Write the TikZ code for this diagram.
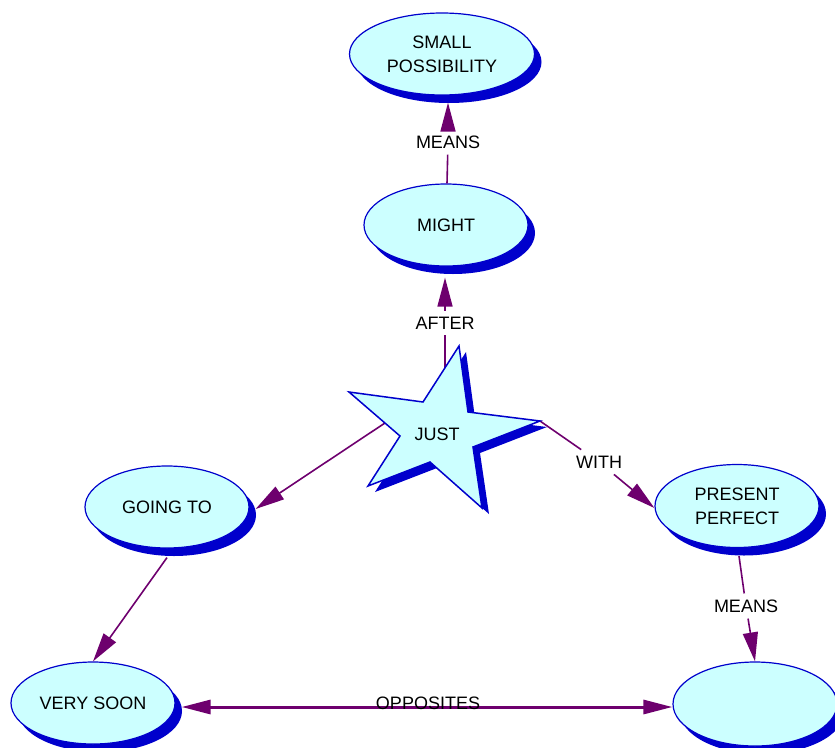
\documentclass[tikz,border=0pt]{standalone}
\usepackage{fontspec}
\setmainfont{Liberation Sans}
\usetikzlibrary{shapes.geometric,shadows,arrows.meta}
\definecolor{conceptfill}{RGB}{204,255,255}
\definecolor{conceptline}{RGB}{0,0,204}
\definecolor{shadowblue}{RGB}{0,0,204}
\definecolor{linkcol}{RGB}{110,0,110}
\tikzset{
  concept/.style={ellipse, draw=conceptline, line width=1.2pt, fill=conceptfill,
    minimum width=164pt, minimum height=82pt, align=center, inner sep=0pt,
    font=\fontsize{18}{24}\selectfont,
    drop shadow={shadow xshift=7pt, shadow yshift=-8pt, fill=shadowblue, opacity=1}},
  linklabel/.style={font=\fontsize{18}{24}\selectfont, inner sep=6pt},
  link/.style={draw=linkcol, line width=1.6pt},
  linkarrow/.style={arrows={-Triangle[length=29pt,width=15pt]}},
  twoway/.style={arrows={Triangle[length=29pt,width=14pt]-Triangle[length=29pt,width=14pt]}},
  starshadow/.style={fill=shadowblue},
  starbody/.style={fill=conceptfill, draw=conceptline, line width=1.5pt}
}
\begin{document}
\begin{tikzpicture}[x=1pt,y=-1pt]
  \useasboundingbox (0,0) rectangle (835,747);
  % concepts
  \node[concept, minimum width=185pt] (smallposs) at (442,54) {SMALL\\POSSIBILITY};
  \node[concept] (might) at (446,225) {MIGHT};
  \node[concept] (goingto) at (167,507) {GOING TO};
  \node[concept, minimum height=83pt] (pp) at (737,506) {PRESENT\\PERFECT};
  \node[concept] (verysoon) at (93,703) {VERY SOON};
  \node[concept, minimum height=84pt] (empty) at (755,704) {};
  % link words
  \node[linklabel] (means1) at (448,142) {MEANS};
  \node[linklabel] (after) at (445,323) {AFTER};
  \node[linklabel] (with) at (599,462) {WITH};
  \node[linklabel] (means2) at (746,606) {MEANS};
  % where the lines leave the star
  \coordinate (jn) at (445,400);
  \coordinate (jw) at (400,413);
  \coordinate (je) at (540,421);
  % links
  \draw[link] (might) -- (means1);
  \draw[link,linkarrow] (means1) -- ([shift={(6,7)}]smallposs.south);
  \draw[link] (jn) -- (after);
  \draw[link,linkarrow] (after) -- ([shift={(-1,11)}]might.south);
  \draw[link,linkarrow] (jw) -- ([shift={(6,2)}]goingto.east);
  \draw[link] (je) -- (with);
  \draw[link,linkarrow] (with) -- ([shift={(0,2)}]pp.west);
  \draw[link] ([shift={(2,8)}]pp.south) -- (means2);
  \draw[link,linkarrow] (means2) -- (empty.north);
  \draw[link,linkarrow] ([shift={(0,9)}]goingto.south) -- (verysoon.north);
  \coordinate (oppl) at ([shift={(6,4)}]verysoon.east);
  \draw[link,line width=3pt,twoway] (oppl) -- (oppl -| empty.west);
  \node[linklabel] (opposites) at (428,703) {OPPOSITES};
  % the star
  \foreach \dx/\dy/\look in {7/6/starshadow,0/0/starbody}
    \path[\look,shift={(\dx,\dy)}] (459,346) -- (468,412) -- (540,421) -- (473,447)
      -- (482,508) -- (430,462) -- (368,486) -- (400,436) -- (349,392) -- (423,402) -- cycle;
  \node[font=\fontsize{18}{24}\selectfont] (just) at (437,434) {JUST};
\end{tikzpicture}
\end{document}
